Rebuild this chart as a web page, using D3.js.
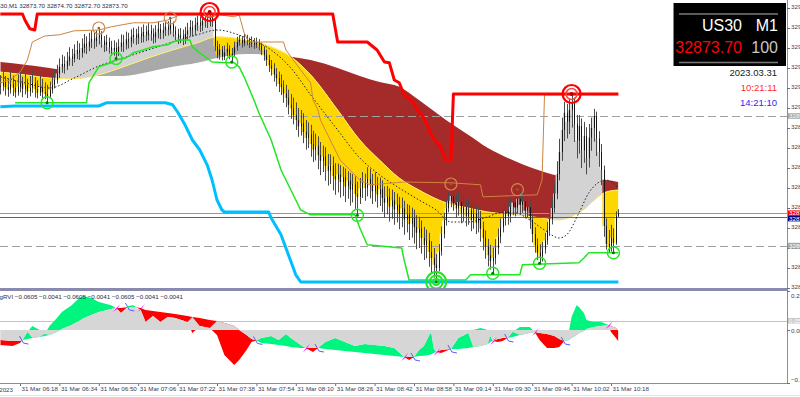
<!DOCTYPE html>
<html>
<head>
<meta charset="utf-8">
<script src="https://cdn.jsdelivr.net/npm/d3@7"></script>
<style>
  body { margin: 0; background: #ffffff; }
  svg { display: block; }
</style>
</head>
<body>
<div id="chart"></div>
<script>
// ---------- data ----------
const symbol = 'US30', period = 'M1';
const lastBar = [32873.70, 32874.70, 32872.70, 32873.70];
const bidPrice = 32873.70, askLevel = 32872.8;
const dashedLevels = [32898.0, 32865.6];
const startTime = new Date(2023, 2, 31, 6, 10);
const timeLabels = ['06:18', '06:34', '06:50', '07:06', '07:22', '07:38', '07:54', '08:10',
  '08:26', '08:42', '08:58', '09:14', '09:30', '09:46', '10:02', '10:18'];
const priceTicks = [32855, 32860, 32865, 32870, 32875, 32880, 32885, 32890,
  32895, 32900, 32905, 32910, 32915, 32920, 32925];

const closes = [
  32905.5,32906.8,32905.2,32904.6,32906.0,32905.1,32903.9,32905.3,32906.2,32904.8,
  32905.7,32904.1,32905.0,32906.3,32904.7,32903.8,32905.2,32904.0,32903.5,32903.0,
  32904.5,32905.8,32907.0,32908.6,32910.2,32911.0,32910.4,32911.8,32912.9,32912.3,
  32913.6,32914.5,32913.8,32915.0,32916.1,32915.4,32916.6,32917.3,32916.8,32917.6,
  32918.2,32916.9,32915.8,32916.5,32915.2,32914.4,32915.0,32913.9,32915.3,32916.4,
  32915.9,32917.2,32916.6,32917.8,32918.3,32917.5,32918.6,32917.9,32919.0,32918.2,
  32919.4,32918.5,32917.7,32918.9,32919.8,32918.8,32919.5,32920.3,32919.6,32920.8,
  32919.3,32918.4,32917.6,32918.1,32917.2,32918.5,32919.4,32920.2,32919.5,32920.8,
  32921.4,32920.6,32921.7,32922.3,32921.5,32922.8,32921.9,32915.5,32913.2,32914.6,
  32912.8,32913.9,32914.8,32913.1,32913.6,32915.2,32916.5,32917.0,32916.2,32917.3,
  32916.8,32916.0,32916.7,32915.9,32916.4,32915.6,32914.5,32913.2,32912.0,32910.6,
  32909.8,32908.4,32907.5,32906.0,32905.2,32903.6,32902.5,32900.8,32899.9,32898.2,
  32897.0,32895.4,32896.2,32894.0,32892.5,32893.4,32891.0,32889.6,32890.5,32888.2,
  32886.8,32887.9,32885.5,32884.3,32885.6,32883.0,32882.1,32883.4,32881.5,32882.7,
  32880.4,32881.8,32879.6,32880.9,32878.5,32877.8,32879.9,32881.2,32880.0,32882.3,
  32881.0,32879.2,32880.6,32878.4,32879.7,32877.5,32876.3,32877.8,32875.4,32876.9,
  32874.6,32875.8,32873.5,32874.9,32872.1,32873.4,32871.0,32872.5,32870.2,32868.8,
  32869.9,32867.5,32865.8,32866.9,32864.0,32862.5,32860.8,32860.0,32864.2,32868.5,
  32871.9,32875.0,32876.8,32878.0,32876.2,32874.9,32876.5,32873.8,32875.2,32872.9,
  32874.4,32872.0,32873.6,32871.3,32872.5,32869.8,32867.5,32865.4,32863.2,32861.8,
  32862.5,32865.0,32867.8,32870.1,32872.4,32874.2,32873.0,32875.3,32876.4,32875.1,
  32877.3,32875.8,32876.6,32874.3,32875.2,32872.0,32868.5,32865.6,32863.8,32862.9,
  32864.7,32866.9,32869.4,32872.2,32875.0,32878.6,32883.5,32889.0,32894.5,32898.8,
  32896.5,32899.5,32901.2,32896.0,32891.8,32895.5,32889.4,32893.0,32887.5,32892.6,
  32895.0,32898.0,32892.4,32889.0,32884.5,32870.5,32866.0,32865.2,32867.5,32866.3,
  32873.0,32873.7
];
const highs = [
  32908.2,32909.3,32908.0,32907.4,32909.0,32908.1,32906.9,32908.4,32909.6,32907.8,
  32908.7,32907.3,32908.0,32909.4,32907.7,32906.9,32908.2,32907.3,32906.4,32905.8,
  32906.6,32907.9,32909.6,32910.8,32912.4,32913.3,32912.9,32914.0,32915.2,32914.8,
  32915.9,32916.8,32916.2,32917.4,32918.5,32917.9,32918.8,32919.3,32918.9,32919.4,
  32920.0,32919.2,32918.0,32918.3,32917.6,32916.8,32916.9,32916.4,32917.2,32918.4,
  32918.3,32919.1,32918.8,32919.7,32920.1,32919.8,32920.4,32920.2,32920.9,32920.6,
  32921.2,32920.8,32919.9,32920.7,32921.6,32921.0,32921.3,32921.9,32921.7,32922.5,
  32921.6,32920.4,32919.8,32920.0,32919.6,32920.3,32921.3,32922.0,32921.8,32922.6,
  32923.1,32922.9,32923.4,32923.9,32923.6,32924.0,32923.7,32922.4,32916.8,32916.0,
  32915.5,32915.6,32916.3,32915.7,32915.0,32916.6,32917.8,32918.2,32918.0,32918.5,
  32918.3,32917.6,32917.9,32917.5,32917.6,32917.2,32916.3,32915.4,32914.6,32913.3,
  32912.0,32911.2,32910.0,32909.1,32908.4,32906.9,32905.8,32904.6,32903.5,32902.6,
  32901.4,32900.0,32899.5,32898.7,32897.0,32896.4,32895.8,32894.3,32893.6,32892.9,
  32891.5,32890.6,32890.2,32888.5,32888.4,32887.9,32886.2,32886.1,32885.7,32885.3,
  32884.9,32884.2,32883.8,32883.5,32882.9,32881.6,32882.5,32884.0,32883.6,32885.2,
  32884.8,32883.5,32883.9,32882.8,32882.6,32881.9,32880.4,32880.5,32879.9,32879.6,
  32879.0,32878.6,32877.8,32877.6,32876.8,32876.0,32875.7,32875.1,32874.6,32873.2,
  32872.8,32871.9,32870.3,32869.6,32868.8,32866.7,32865.0,32863.5,32866.0,32870.4,
  32873.8,32877.2,32879.1,32881.0,32879.6,32878.4,32879.2,32878.0,32877.9,32877.1,
  32877.0,32876.3,32876.2,32875.6,32875.0,32874.3,32871.6,32869.4,32867.3,32865.8,
  32865.1,32867.2,32869.9,32872.4,32874.8,32876.9,32876.5,32877.8,32878.6,32878.2,
  32879.6,32878.9,32878.7,32878.0,32877.4,32876.8,32873.6,32870.2,32867.4,32865.9,
  32866.5,32868.8,32871.5,32874.6,32877.5,32881.4,32886.7,32892.3,32897.6,32901.5,
  32901.0,32902.2,32903.5,32902.6,32898.3,32898.2,32897.4,32896.5,32895.2,32896.0,
  32897.6,32899.8,32899.1,32894.2,32891.0,32885.6,32872.4,32869.5,32870.8,32869.9,
  32874.2,32874.7
];
const lows = [
  32903.4,32904.3,32903.1,32902.8,32903.6,32903.0,32902.6,32903.1,32903.9,32902.7,
  32903.4,32902.5,32902.9,32903.8,32902.6,32902.4,32903.0,32902.3,32902.2,32901.3,
  32902.4,32903.6,32904.9,32906.1,32907.5,32908.8,32908.6,32909.5,32910.6,32910.5,
  32911.4,32912.2,32912.0,32912.6,32913.7,32913.5,32914.2,32915.0,32914.8,32915.3,
  32915.9,32915.1,32914.0,32914.2,32913.6,32913.0,32913.1,32912.4,32913.0,32914.1,
  32914.0,32914.6,32914.9,32915.2,32916.1,32915.8,32916.0,32916.3,32916.4,32916.7,
  32916.9,32916.8,32916.1,32916.3,32917.4,32917.2,32917.3,32918.0,32918.1,32918.4,
  32917.8,32916.9,32916.0,32916.2,32915.7,32916.0,32917.1,32918.0,32917.9,32918.2,
  32919.3,32919.0,32919.3,32920.1,32920.0,32920.4,32920.3,32914.3,32912.4,32912.1,
  32911.9,32912.0,32912.9,32912.2,32911.5,32912.8,32914.3,32915.6,32915.1,32915.4,
  32915.7,32915.0,32915.2,32914.8,32915.0,32914.4,32913.2,32911.8,32910.5,32909.0,
  32908.1,32906.6,32905.4,32904.0,32903.2,32901.3,32900.2,32898.4,32897.3,32895.9,
  32894.5,32892.8,32893.1,32891.2,32889.6,32890.0,32887.8,32886.5,32886.9,32884.7,
  32883.2,32884.0,32881.8,32880.6,32881.0,32879.4,32878.3,32878.9,32877.6,32878.0,
  32876.5,32877.3,32875.6,32876.4,32874.8,32873.2,32876.0,32877.5,32876.8,32877.9,
  32877.4,32876.0,32876.6,32875.1,32875.5,32874.0,32872.6,32873.4,32871.6,32872.3,
  32870.8,32871.4,32869.7,32870.2,32868.3,32868.9,32867.0,32867.6,32866.1,32864.7,
  32865.0,32863.6,32862.0,32862.4,32860.3,32858.8,32857.6,32856.5,32859.2,32863.1,
  32867.4,32870.6,32873.9,32875.2,32874.3,32872.6,32873.1,32871.2,32871.6,32870.4,
  32870.8,32869.2,32869.8,32868.5,32868.9,32866.6,32864.4,32862.3,32860.4,32859.6,
  32858.7,32860.9,32863.4,32866.2,32868.9,32870.6,32870.8,32871.4,32873.2,32872.9,
  32873.6,32873.5,32873.8,32872.4,32872.5,32869.8,32866.4,32863.8,32862.0,32861.2,
  32861.6,32863.6,32865.8,32868.0,32870.9,32873.8,32877.2,32881.9,32886.8,32891.7,
  32892.4,32893.5,32895.1,32891.5,32887.4,32888.6,32885.0,32886.3,32883.4,32885.1,
  32889.3,32891.6,32888.0,32885.3,32880.7,32867.8,32864.6,32864.0,32864.1,32863.8,
  32865.8,32872.7
];

// moving averages: [bar, price]
const fastMA = [[0,32909.0],[10,32908.3],[20,32907.5],[30,32907.3],[40,32908.3],[50,32910.3],
  [60,32912.5],[70,32914.5],[80,32916.3],[88,32917.8],[100,32917.0],[110,32915.3],[118,32912.8],
  [126,32908.3],[137,32899.5],[146,32892.0],[154,32887.0],[162,32882.5],[170,32879.5],
  [181,32876.3],[190,32875.0],[198,32874.0],[208,32873.3],[216,32872.8],[227,32872.0],
  [235,32873.8],[246,32879.0],[251,32879.5]];
const slowMA = [[0,32911.5],[10,32910.8],[20,32910.0],[30,32909.0],[40,32908.0],[50,32908.0],
  [60,32909.0],[70,32910.3],[80,32911.3],[88,32912.5],[100,32913.5],[110,32913.3],[118,32912.8],
  [126,32912.0],[137,32910.0],[146,32908.0],[154,32906.5],[162,32905.3],[170,32902.0],
  [181,32897.0],[190,32893.3],[198,32890.0],[208,32887.0],[216,32885.0],[227,32883.0],
  [235,32882.3],[246,32882.0],[251,32881.5]];
const dottedMA = [[0,32907.8],[10,32906.3],[20,32905.0],[30,32907.5],[40,32910.5],[50,32912.5],
  [60,32914.5],[70,32916.5],[80,32918.3],[88,32919.5],[100,32917.5],[110,32914.5],[118,32910.0],
  [126,32903.3],[137,32894.5],[146,32887.5],[154,32883.3],[162,32880.0],[170,32877.0],
  [177,32874.5],[183,32871.5],[190,32871.5],[198,32872.8],[203,32873.8],[209,32873.8],
  [215,32872.0],[221,32869.5],[227,32867.5],[230,32868.3],[235,32873.8],[239,32878.8],
  [246,32882.0],[251,32880.0]];

// channel lines: [bar, price]
const upperRed = [[0,32923.5],[9,32923.5],[10,32922.0],[12,32919.8],[14,32919.5],[15,32923.5],
  [135,32923.5],[137,32916.5],[149,32916.5],[153,32914.5],[156,32911.5],[158,32911.3],
  [160,32907.0],[162,32906.3],[164,32903.3],[167,32902.0],[170,32899.0],[172,32897.5],
  [175,32893.3],[179,32890.0],[181,32887.0],[183,32887.0],[184,32903.5],[251,32903.5]];
const lowerBlue = [[0,32900.3],[6,32900.5],[40,32900.5],[43,32901.3],[67,32901.3],[70,32900.8],
  [72,32899.0],[75,32895.8],[78,32892.0],[81,32889.5],[84,32885.8],[86,32882.0],[88,32877.0],
  [90,32874.5],[91,32874.0],[109,32874.0],[110,32872.5],[114,32868.3],[117,32863.3],
  [120,32858.3],[122,32856.5],[251,32856.5]];
const lowerGreen = [[6,32901.3],[35,32901.3],[36,32906.3],[40,32910.3],[45,32911.3],[47,32912.0],
  [51,32912.5],[54,32913.8],[58,32914.5],[62,32915.3],[68,32915.8],[70,32916.5],[73,32917.0],
  [77,32917.0],[78,32915.3],[81,32913.8],[86,32911.5],[92,32911.3],[95,32911.3],[97,32910.3],
  [99,32907.8],[103,32902.0],[105,32898.8],[110,32892.0],[114,32884.5],[118,32879.5],
  [122,32874.5],[126,32873.3],[144,32873.3],[146,32870.0],[149,32865.8],[163,32865.0],
  [164,32862.0],[166,32857.0],[189,32857.0],[191,32858.3],[211,32858.3],[212,32860.8],
  [235,32861.3],[237,32862.5],[239,32863.8],[251,32863.8]];
const upperOrange = [[0,32906.3],[4,32907.0],[8,32909.0],[11,32912.0],[13,32916.5],[18,32918.0],
  [24,32918.3],[30,32919.3],[40,32919.5],[45,32920.3],[54,32921.3],[62,32921.3],[68,32922.0],
  [70,32922.5],[73,32923.3],[81,32923.3],[86,32922.8],[89,32923.3],[95,32922.8],[97,32923.3],
  [99,32918.8],[101,32916.5],[115,32916.5],[116,32914.5],[119,32912.0],[122,32909.5],
  [126,32906.3],[127,32902.0],[129,32899.5],[130,32897.0],[134,32892.0],[138,32887.0],
  [142,32884.5],[146,32882.0],[150,32880.8],[164,32881.5],[183,32881.3],[195,32880.8],
  [196,32877.8],[218,32878.3],[220,32882.0],[221,32903.3],[251,32903.3]];

// swing markers (bar indexes)
const majorHighs = [85, 232];
const swingHighs = [40, 69, 183, 210];
const swingLows = [19, 47, 94, 145, 200, 219, 249];
const majorLows = [177];

// gRVI sub-window
const subBars = [0,5,8,9,11,13,16,18,20,23,25,29,32,34,37,40,45,47,49,52,54,57,59,62,65,68,71,
  76,78,81,85,88,91,95,97,100,102,104,106,110,113,116,118,122,124,127,129,132,136,140,144,148,
  152,156,160,164,166,168,170,172,174,175,176,177,179,181,183,186,190,192,195,198,199,200,202,
  204,206,208,211,215,217,219,222,225,227,229,231,232,234,235,237,238,241,244,246,247,248,250,251];
const rviVals = [-0.081,-0.086,-0.070,-0.054,-0.011,0.022,0.000,-0.022,0.022,0.065,0.097,0.134,
  0.172,0.183,0.172,0.151,0.134,0.118,0.091,0.129,0.134,0.108,0.043,0.075,0.043,0.070,0.065,
  0.043,-0.016,0.022,0.011,-0.027,-0.134,-0.188,-0.161,-0.108,-0.065,-0.056,-0.043,-0.032,
  -0.054,-0.022,-0.043,-0.081,-0.097,-0.118,-0.097,-0.065,-0.043,-0.065,-0.086,-0.075,-0.081,
  -0.086,-0.097,-0.145,-0.161,-0.145,-0.108,-0.086,-0.032,-0.011,-0.100,-0.118,-0.124,-0.113,
  -0.102,-0.043,-0.016,0.000,0.011,0.000,-0.032,-0.059,-0.065,-0.059,-0.043,-0.011,0.016,0.016,
  -0.011,-0.054,-0.097,-0.097,-0.091,-0.059,0.000,0.070,0.134,0.124,0.091,0.054,0.043,0.043,
  0.032,0.027,-0.011,-0.043,-0.0605];
const sigVals = [-0.054,-0.059,-0.059,-0.054,-0.048,-0.043,-0.038,-0.032,-0.027,-0.011,0.005,
  0.027,0.048,0.065,0.081,0.097,0.113,0.118,0.118,0.124,0.124,0.118,0.108,0.102,0.097,0.091,
  0.086,0.075,0.070,0.065,0.054,0.048,0.038,0.022,0.000,-0.027,-0.048,-0.056,-0.070,-0.075,
  -0.081,-0.086,-0.091,-0.097,-0.097,-0.097,-0.097,-0.102,-0.108,-0.113,-0.118,-0.124,-0.129,
  -0.134,-0.140,-0.145,-0.145,-0.145,-0.140,-0.138,-0.134,-0.130,-0.124,-0.118,-0.108,-0.105,
  -0.102,-0.102,-0.097,-0.091,-0.086,-0.075,-0.065,-0.059,-0.048,-0.043,-0.043,-0.038,-0.027,
  -0.016,-0.011,-0.016,-0.022,-0.032,-0.048,-0.059,-0.054,-0.043,-0.027,-0.016,-0.005,0.005,
  0.016,0.022,0.027,0.027,0.022,0.011,-0.0041];
const crossDown = [47, 57, 124, 164, 177, 200, 217, 247];
const crossUp = [9, 52, 104, 129, 168, 183, 206, 229];
const subLevel = 0.05;

// ---------- layout ----------
const W = 800, H = 397;
const axisX = 787;
const mainBottom = 288, subTop = 291, subBottom = 383;
const barStep = 2.4625;
const font = '"Liberation Sans", Arial, sans-serif';

const svg = d3.select('#chart').append('svg')
  .attr('width', W).attr('height', H)
  .style('font-family', font);

const x = d3.scaleLinear().domain([0, 251]).range([0.3, 0.3 + 251 * barStep]);
const y = d3.scaleLinear().domain([32855, 32927]).range([mainBottom, 0]);
const ys = d3.scaleLinear().domain([-0.285, 0.21]).range([subBottom, subTop]);
const xt = d3.scaleTime()
  .domain([startTime, d3.timeMinute.offset(startTime, 251)])
  .range(x.range());

const defs = svg.append('defs');
defs.append('clipPath').attr('id', 'clipMain').append('rect')
  .attr('x', 0).attr('y', 0).attr('width', axisX).attr('height', mainBottom);
defs.append('clipPath').attr('id', 'clipSub').append('rect')
  .attr('x', 0).attr('y', subTop).attr('width', axisX).attr('height', subBottom - subTop);

const areaUp = d3.area().x(d => x(d[0])).y0(-20).y1(d => y(d[1])).curve(d3.curveMonotoneX);
const areaDown = d3.area().x(d => x(d[0])).y0(d => y(d[1])).y1(mainBottom + 20).curve(d3.curveMonotoneX);
defs.append('clipPath').attr('id', 'aboveFast').append('path').attr('d', areaUp(fastMA));
defs.append('clipPath').attr('id', 'belowFast').append('path').attr('d', areaDown(fastMA));

const main = svg.append('g').attr('clip-path', 'url(#clipMain)');

// slow/fast band
main.append('g').attr('clip-path', 'url(#aboveFast)')
  .append('path').attr('d', areaDown(slowMA)).attr('fill', '#a52a2a');
main.append('g').attr('clip-path', 'url(#belowFast)')
  .append('path').attr('d', areaUp(slowMA)).attr('fill', '#a9a9a9');

// price vs fast MA
const bars = closes.map((c, i) => [i, c]);
const stepUp = d3.area().x(d => x(d[0])).y0(-20).y1(d => y(d[1])).curve(d3.curveStep);
const stepDown = d3.area().x(d => x(d[0])).y0(d => y(d[1])).y1(mainBottom + 20).curve(d3.curveStep);
main.append('g').attr('clip-path', 'url(#belowFast)')
  .append('path').attr('d', stepUp(bars)).attr('fill', '#ffd700');
main.append('g').attr('clip-path', 'url(#aboveFast)')
  .append('path').attr('d', stepDown(bars)).attr('fill', '#d3d3d3');

const maLine = d3.line().x(d => x(d[0])).y(d => y(d[1])).curve(d3.curveMonotoneX);
main.append('path').attr('d', maLine(fastMA))
  .attr('fill', 'none').attr('stroke', '#fff06a').attr('stroke-width', 1);

// horizontal levels
dashedLevels.forEach(p => {
  main.append('line').attr('x1', 0).attr('x2', axisX)
    .attr('y1', Math.round(y(p)) + 0.5).attr('y2', Math.round(y(p)) + 0.5)
    .attr('stroke', '#a0a0a0').attr('stroke-dasharray', '8,4');
});
main.append('line').attr('x1', 0).attr('x2', axisX)
  .attr('y1', Math.round(y(askLevel)) + 0.5).attr('y2', Math.round(y(askLevel)) + 0.5)
  .attr('stroke', '#5a5aa8');
main.append('line').attr('x1', 0).attr('x2', axisX)
  .attr('y1', Math.round(y(bidPrice)) + 0.5).attr('y2', Math.round(y(bidPrice)) + 0.5)
  .attr('stroke', '#ff6a6a');

main.append('path').attr('d', maLine(dottedMA))
  .attr('fill', 'none').attr('stroke', '#222').attr('stroke-width', 1)
  .attr('stroke-dasharray', '1.5,2');

// candles
const candles = main.append('g');
closes.forEach((c, i) => {
  const xi = Math.round(x(i)) + 0.5;
  const o = i > 0 ? closes[i - 1] : c;
  candles.append('line').attr('x1', xi).attr('x2', xi)
    .attr('y1', y(highs[i])).attr('y2', y(lows[i]))
    .attr('stroke', '#4a4a4a').attr('stroke-width', 1);
  candles.append('rect').attr('x', xi - 0.5).attr('width', 1)
    .attr('y', y(Math.max(o, c))).attr('height', Math.max(0.8, Math.abs(y(o) - y(c))))
    .attr('fill', '#161616');
});

// channel lines
const stepLine = d3.line().x(d => x(d[0])).y(d => y(d[1]));
main.append('path').attr('d', stepLine(upperOrange))
  .attr('fill', 'none').attr('stroke', '#cd853f').attr('stroke-width', 1);
main.append('path').attr('d', stepLine(lowerGreen))
  .attr('fill', 'none').attr('stroke', '#22e622').attr('stroke-width', 1.5)
  .attr('stroke-linejoin', 'round');
main.append('path').attr('d', stepLine(lowerBlue))
  .attr('fill', 'none').attr('stroke', '#00bfff').attr('stroke-width', 3)
  .attr('stroke-linejoin', 'round');
main.append('path').attr('d', stepLine(upperRed))
  .attr('fill', 'none').attr('stroke', '#ff0000').attr('stroke-width', 3)
  .attr('stroke-linejoin', 'round');

// swing markers
const marks = main.append('g').attr('fill', 'none');
swingHighs.forEach(b => {
  const cx = x(b), cy = y(highs[b]);
  marks.append('circle').attr('cx', cx).attr('cy', cy).attr('r', 6)
    .attr('stroke', '#d08a50').attr('stroke-width', 1.2);
  marks.append('circle').attr('cx', cx).attr('cy', cy).attr('r', 1.3).attr('fill', '#a05a20');
});
swingLows.forEach(b => {
  const cx = x(b), cy = y(lows[b]);
  marks.append('circle').attr('cx', cx).attr('cy', cy).attr('r', 6)
    .attr('stroke', '#22e622').attr('stroke-width', 1.4);
  marks.append('circle').attr('cx', cx).attr('cy', cy).attr('r', 1.5).attr('fill', '#007a00');
});
majorLows.forEach(b => {
  const cx = x(b), cy = y(lows[b]);
  [10, 6.5, 3].forEach(r => marks.append('circle').attr('cx', cx).attr('cy', cy).attr('r', r)
    .attr('stroke', '#22e622').attr('stroke-width', 2));
  marks.append('circle').attr('cx', cx).attr('cy', cy).attr('r', 1.2).attr('fill', '#007a00');
});
majorHighs.forEach(b => {
  const cx = x(b), cy = y(highs[b]);
  marks.append('circle').attr('cx', cx).attr('cy', cy).attr('r', 9)
    .attr('stroke', '#ff0000').attr('stroke-width', 2.2);
  marks.append('circle').attr('cx', cx).attr('cy', cy).attr('r', 5.5)
    .attr('stroke', '#ff4040').attr('stroke-width', 1.5);
  marks.append('circle').attr('cx', cx).attr('cy', cy).attr('r', 2).attr('fill', '#b00000');
});

// ---------- sub window ----------
const rviPts = subBars.map((b, i) => [b, rviVals[i]]);
const sigPts = subBars.map((b, i) => [b, sigVals[i]]);
const greyPts = subBars.map((b, i) => {
  const r = rviVals[i], s = sigVals[i];
  const same = r * s > 0 && Math.abs(r) < Math.abs(s);
  return [b, same ? r : s];
});
const sUp = d3.area().x(d => x(d[0])).y0(subTop - 5).y1(d => ys(d[1]));
const sDown = d3.area().x(d => x(d[0])).y0(d => ys(d[1])).y1(subBottom + 5);
defs.append('clipPath').attr('id', 'aboveSig').append('path').attr('d', sUp(sigPts));
defs.append('clipPath').attr('id', 'belowSig').append('path').attr('d', sDown(sigPts));

const sub = svg.append('g').attr('clip-path', 'url(#clipSub)');
sub.append('line').attr('x1', 0).attr('x2', axisX)
  .attr('y1', Math.round(ys(subLevel)) + 0.5).attr('y2', Math.round(ys(subLevel)) + 0.5)
  .attr('stroke', '#c4c4c4');
sub.append('g').attr('clip-path', 'url(#aboveSig)')
  .append('path').attr('d', sDown(rviPts)).attr('fill', '#00f57f');
sub.append('g').attr('clip-path', 'url(#belowSig)')
  .append('path').attr('d', sUp(rviPts)).attr('fill', '#ff0000');
sub.append('path')
  .attr('d', d3.area().x(d => x(d[0])).y0(ys(0)).y1(d => ys(d[1]))(greyPts))
  .attr('fill', '#d6d6d6');

const sigAt = b => sigVals[subBars.indexOf(b)];
crossDown.forEach(b => {
  const cx = x(b), cy = ys(sigAt(b));
  sub.append('path')
    .attr('d', `M${cx - 3},${cy + 4} L${cx + 4},${cy - 4} L${cx + 1},${cy + 1} Z`)
    .attr('fill', '#ff00ff');
});
crossUp.forEach(b => {
  const cx = x(b), cy = ys(sigAt(b));
  sub.append('path')
    .attr('d', `M${cx - 3},${cy - 4} L${cx + 1},${cy + 3} L${cx + 6},${cy + 4}`)
    .attr('fill', 'none').attr('stroke', '#5c5cff').attr('stroke-width', 1);
});

// ---------- frames ----------
svg.append('rect').attr('x', 0).attr('y', mainBottom).attr('width', axisX + 1).attr('height', 3)
  .attr('fill', '#8a8aae');
svg.append('line').attr('x1', 0).attr('x2', axisX + 1)
  .attr('y1', subBottom + 0.5).attr('y2', subBottom + 0.5).attr('stroke', '#8a8aae');
svg.append('line').attr('x1', axisX + 0.5).attr('x2', axisX + 0.5)
  .attr('y1', 0).attr('y2', subBottom + 1).attr('stroke', '#8a8aae');
svg.append('line').attr('x1', 0).attr('x2', W).attr('y1', 395.5).attr('y2', 395.5)
  .attr('stroke', '#e6e6e6');

// price axis
const yAxisG = svg.append('g').attr('transform', `translate(${axisX},0)`)
  .call(d3.axisRight(y).tickValues(priceTicks).tickFormat(d3.format('.2f'))
    .tickSize(3).tickSizeOuter(0).tickPadding(1));
yAxisG.select('.domain').remove();
yAxisG.attr('font-size', 6.2).attr('font-family', font);
yAxisG.selectAll('line').attr('stroke', '#6a6a90');
yAxisG.selectAll('text').attr('fill', '#3a3a5a').attr('dy', '0.1em');

function axisBox(yc, fill, txt, color) {
  svg.append('rect').attr('x', axisX + 1).attr('y', yc - 2.8).attr('width', W - axisX).attr('height', 5.6)
    .attr('fill', fill);
  svg.append('text').attr('x', axisX + 2).attr('y', yc + 2.2).attr('font-size', 6.2)
    .attr('fill', color).text(txt);
}
dashedLevels.forEach(p => axisBox(y(p), '#a3aaa6', d3.format('.2f')(p), '#ffffff'));
axisBox(y(askLevel) + 1.8, '#000080', d3.format('.2f')(askLevel), '#ffffff');
axisBox(y(bidPrice), '#ff0000', d3.format('.2f')(bidPrice), '#ffffff');

// sub axis
const subAxisG = svg.append('g').attr('transform', `translate(${axisX},0)`)
  .call(d3.axisRight(ys).tickValues([0.21, 0, -0.285]).tickFormat(d3.format('.2f'))
    .tickSize(3).tickSizeOuter(0).tickPadding(1));
subAxisG.select('.domain').remove();
subAxisG.attr('font-size', 6.2).attr('font-family', font);
subAxisG.selectAll('line').attr('stroke', '#6a6a90');
subAxisG.selectAll('text').attr('fill', '#3a3a5a');
subAxisG.selectAll('.tick').filter(d => d === 0.21).select('text').attr('dy', '1.1em');
subAxisG.selectAll('.tick').filter(d => d < 0).select('text').attr('dy', '-0.2em');
axisBox(ys(subLevel), '#c8c8c8', d3.format('.2f')(subLevel), '#ffffff');

// time axis
const tickTimes = timeLabels.map(s => {
  const [h, m] = s.split(':').map(Number);
  return new Date(2023, 2, 31, h, m);
});
const xAxisG = svg.append('g').attr('transform', `translate(0,${subBottom + 1})`)
  .call(d3.axisBottom(xt).tickValues(tickTimes).tickFormat(d3.timeFormat('%d %b %H:%M'))
    .tickSize(2).tickSizeOuter(0).tickPadding(1));
xAxisG.select('.domain').remove();
xAxisG.attr('font-size', 6.2).attr('font-family', font);
xAxisG.selectAll('line').attr('stroke', '#6a6a90');
xAxisG.selectAll('text').attr('text-anchor', 'start').attr('x', 1).attr('fill', '#3a3a5a');
svg.append('text').attr('x', 13).attr('y', 391.5).attr('text-anchor', 'end')
  .attr('font-size', 6.2).attr('fill', '#3a3a5a').text('31 Mar 2023');

// header texts
svg.append('text').attr('x', -8.3).attr('y', 7.5).attr('font-size', 6.2).attr('fill', '#2a2a48')
  .text(`${symbol},${period}  ` + lastBar.map(d3.format('.2f')).join(' '));
svg.append('text').attr('x', -0.5).attr('y', subTop + 7.5).attr('font-size', 6.2).attr('fill', '#2a2a48')
  .text('gRVI ' + [-0.0605, -0.0041, -0.0605, -0.0041, -0.0605, -0.0041, -0.0041]
    .map(d3.format('.4f')).join(' '));

// info panel
const panel = svg.append('g');
panel.append('rect').attr('x', 673).attr('y', 3).attr('width', 113).attr('height', 63).attr('fill', '#000');
panel.append('line').attr('x1', 673.5).attr('x2', 673.5).attr('y1', 3).attr('y2', 66)
  .attr('stroke', '#b07a40');
[14, 62.5].forEach(yy => panel.append('line').attr('x1', 679).attr('x2', 778)
  .attr('y1', yy).attr('y2', yy).attr('stroke', '#7a7a7a').attr('stroke-width', 1.5));
panel.append('text').attr('x', 742).attr('y', 30.5).attr('text-anchor', 'end')
  .attr('font-size', 16).attr('fill', '#fff').text(symbol);
panel.append('text').attr('x', 778).attr('y', 30.5).attr('text-anchor', 'end')
  .attr('font-size', 16).attr('fill', '#fff').text(period);
panel.append('text').attr('x', 742).attr('y', 52.5).attr('text-anchor', 'end')
  .attr('font-size', 16).attr('fill', '#ff0000').text(d3.format('.2f')(bidPrice));
panel.append('text').attr('x', 778).attr('y', 52.5).attr('text-anchor', 'end')
  .attr('font-size', 16).attr('fill', '#c8c8c8').text('100');

const clock = [['2023.03.31', '#202020', 76], ['10:21:11', '#ff2a2a', 91], ['14:21:10', '#2a2aee', 106]];
clock.forEach(([t, c, yy]) => svg.append('text').attr('x', 777).attr('y', yy)
  .attr('text-anchor', 'end').attr('font-size', 9.5).attr('fill', c).text(t));
</script>
</body>
</html>
